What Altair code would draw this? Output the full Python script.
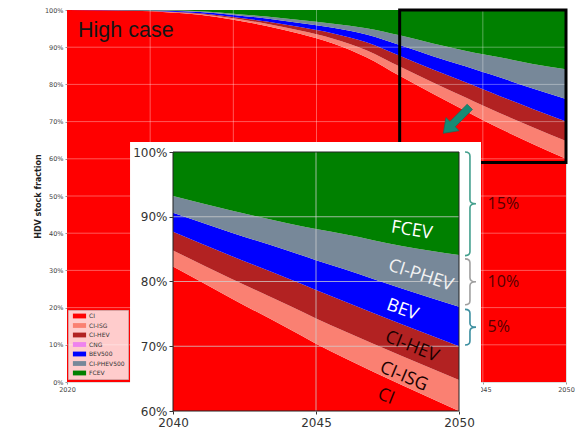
import altair as alt
import pandas as pd

# ---------------- data ----------------
categories = ["CI", "CI-ISG", "CI-HEV", "CNG", "BEV500", "CI-PHEV500", "FCEV"]
colors = ["#ff0000", "#fa8072", "#b22222", "#ee82ee", "#0000ff", "#778899", "#008000"]

years = [2020, 2024, 2026, 2028, 2030, 2032, 2034, 2036, 2038, 2040, 2042, 2044, 2045, 2046, 2048, 2050]
ci   = [100, 99.8, 99.4, 98.7, 97.4, 95.7, 93.6, 91.0, 87.3, 82.3, 77.5, 72.8, 70.4, 68.2, 64.0, 60.0]
isg  = [0, 0.03, 0.1, 0.2, 0.35, 0.6, 0.9, 1.3, 1.9, 2.5, 3.0, 3.6, 3.9, 4.1, 4.5, 4.8]
hev  = [0, 0.03, 0.1, 0.2, 0.35, 0.6, 0.9, 1.4, 2.1, 2.9, 3.5, 4.1, 4.4, 4.6, 4.9, 5.2]
cng  = [0, 0, 0, 0, 0, 0, 0, 0, 0, 0, 0, 0, 0, 0, 0, 0]
bev  = [0, 0.06, 0.2, 0.35, 0.55, 0.8, 1.1, 1.5, 2.1, 2.9, 3.6, 4.3, 4.6, 5.0, 5.5, 6.1]
phev = [0, 0.03, 0.1, 0.2, 0.35, 0.55, 0.8, 1.1, 1.7, 2.6, 3.4, 4.2, 4.8, 5.4, 6.6, 8.0]
fcev = [0, 0.05, 0.1, 0.35, 1.0, 1.75, 2.7, 3.7, 4.9, 6.8, 9.0, 11.0, 11.9, 12.7, 14.5, 15.9]

main_tick_years = [2020, 2025, 2030, 2035, 2040, 2045, 2050]
main_tick_fracs = [0.0, 0.1, 0.2, 0.3, 0.4, 0.5, 0.6, 0.7, 0.8, 0.9, 1.0]
main_grid_years = [2025, 2030, 2035, 2040, 2045]
main_grid_fracs = [0.1, 0.2, 0.3, 0.4, 0.5, 0.6, 0.7, 0.8, 0.9]

inset_years = [2040, 2050]
inset_fracs = [0.6, 1.0]
inset_tick_years = [2040, 2045, 2050]
inset_tick_fracs = [0.6, 0.7, 0.8, 0.9, 1.0]
inset_grid_years = [2045]
inset_grid_fracs = [0.7, 0.8, 0.9]

label_text  = ["FCEV", "CI-PHEV", "BEV", "CI-HEV", "CI-ISG", "CI"]
label_year  = [2048.35, 2048.66, 2048.02, 2048.35, 2048.07, 2047.45]
label_frac  = [0.8785, 0.809, 0.756, 0.699, 0.653, 0.622]
label_angle = [9, 18, 20, 22, 23, 22]
label_color = ["#ffffff", "#f2f2f2", "#ffffff", "#1a0000", "#1a0000", "#2a0000"]

brace_lo    = [0.840, 0.764, 0.702]
brace_hi    = [1.000, 0.835, 0.757]
brace_text  = ["15%", "10%", "5%"]
brace_color = ["#45a08e", "#a0a0a0", "#3d8fa0"]
brace_year = 2050.21
brace_label_year = 2051.0

zoom_box = {"year": [2040], "year2": [2050], "share": [0.59], "share2": [1.0]}
white_box = {"year": [2023.79], "year2": [2044.89], "share": [0.645], "share2": [-0.2]}
arrow_pos = {"year": [2043.42], "share": [0.704]}
case_text = {"year": [2020.66], "share": [0.927], "text": ["High case"]}

# ---------------- table ----------------
series_values = [ci, isg, hev, cng, bev, phev, fcev]
rows = []
for idx, (name, vals) in enumerate(zip(categories, series_values)):
    for yr, v in zip(years, vals):
        rows.append({"year": yr, "series": name, "idx": idx, "share": v / 100.0})
df = pd.DataFrame(rows)
df_in = df[df["year"] >= inset_years[0]]

# ---------------- geometry ----------------
W, H = 499, 372
IN_X = [106, 392]
IN_Y = [401, 142]
PX_PER_FRAC = (IN_Y[0] - IN_Y[1]) / (inset_fracs[1] - inset_fracs[0])

x_main = alt.Scale(domain=[2020, 2050], nice=False, zero=False)
y_main = alt.Scale(domain=[0, 1], nice=False, zero=False)
x_in = alt.Scale(domain=inset_years, range=IN_X, nice=False, zero=False)
y_in = alt.Scale(domain=inset_fracs, range=IN_Y, nice=False, zero=False, clamp=True)

ax_mx = alt.Axis(values=main_tick_years, format="d", grid=False, domain=False, tickSize=2,
                 tickColor="#999999", labelFontSize=6.5, labelFont="DejaVu Sans",
                 labelColor="#444444", labelPadding=2, labelFlush=False, title=None,
                 orient="bottom")
ax_my = alt.Axis(values=main_tick_fracs, format=".0%", grid=False, domain=False, tickSize=2,
                 tickColor="#999999", labelFontSize=6.5, labelFont="DejaVu Sans",
                 labelColor="#444444", labelPadding=2, title="HDV stock fraction",
                 titleFont="DejaVu Sans", titleFontSize=8, titleFontWeight="bold",
                 titleColor="#222222", titleX=-29, titleY=186, titleAngle=270,
                 titleAlign="center", titleBaseline="middle", orient="left")
ax_ix = alt.Axis(values=inset_tick_years, format="d", grid=False, domain=False, tickSize=3,
                 tickColor="#333333", labelFontSize=12, labelFont="DejaVu Sans",
                 labelColor="#333333", labelPadding=3, labelFlush=False, title=None,
                 orient="bottom", offset=IN_Y[0] - H, zindex=1)
ax_iy = alt.Axis(values=inset_tick_fracs, format=".0%", grid=False, domain=False, tickSize=4,
                 tickColor="#333333", labelFontSize=12, labelFont="DejaVu Sans",
                 labelColor="#333333", labelPadding=2, title=None,
                 orient="left", offset=-IN_X[0], zindex=1)

legend = alt.Legend(orient="none", legendX=1, legendY=300, title=None,
                    fillColor="rgba(255,255,255,0.8)", strokeColor="#d9a0a0", padding=3,
                    symbolType="M-2.2,-0.8H2.2V0.8H-2.2Z", symbolSize=36, symbolOffset=5.5,
                    labelOffset=6.5, rowPadding=3.5, labelFontSize=6, labelFont="DejaVu Sans",
                    labelColor="#333333", symbolStrokeWidth=0, symbolOpacity=1)
color_enc = alt.Color("series:N", scale=alt.Scale(domain=categories, range=colors),
                      sort=categories, legend=legend)

def MX(field):
    return alt.X(field, type="quantitative", scale=x_main, axis=ax_mx)

def MY(field, **kw):
    return alt.Y(field, type="quantitative", scale=y_main, axis=ax_my, **kw)

def IX(field):
    return alt.X(field, type="quantitative", scale=x_in, axis=ax_ix)

def IY(field, **kw):
    return alt.Y(field, type="quantitative", scale=y_in, axis=ax_iy, **kw)

ARROW = "M-1,-0.2L0.3,-0.2L0.3,-0.5L1,0L0.3,0.5L0.3,0.2L-1,0.2Z"

def brace_path(h_px, w_px=11.0, r_px=4.0):
    u = h_px / 2.0
    w = w_px / u
    s = 0.45 * w
    r = r_px / u
    return (f"M0,-1Q{s:.4f},-1 {s:.4f},{-1 + r:.4f}L{s:.4f},{-r:.4f}"
            f"Q{s:.4f},0 {w:.4f},0Q{s:.4f},0 {s:.4f},{r:.4f}"
            f"L{s:.4f},{1 - r:.4f}Q{s:.4f},1 0,1")

# ---------------- main chart ----------------
main_area = alt.Chart(df).mark_area(interpolate="monotone", opacity=1).encode(
    x=MX("year"), y=MY("share", stack="zero"), color=color_enc,
    order=alt.Order("idx:Q", sort="ascending"))

grid_v = alt.Chart(pd.DataFrame({"year": main_grid_years})).mark_rule(
    color="white", opacity=0.35, strokeWidth=1).encode(x=MX("year"))
grid_h = alt.Chart(pd.DataFrame({"share": main_grid_fracs})).mark_rule(
    color="white", opacity=0.35, strokeWidth=1).encode(y=MY("share"))

zoom_rect = alt.Chart(pd.DataFrame(zoom_box)).mark_rect(
    fillOpacity=0, stroke="black", strokeWidth=3).encode(
    x=MX("year"), x2="year2:Q", y=MY("share"), y2="share2:Q")

arrow = alt.Chart(pd.DataFrame(arrow_pos)).mark_point(
    shape=ARROW, size=1406, angle=135, filled=True, fill="#168a74", fillOpacity=1,
    stroke="#0f6e5c", strokeWidth=0.6, opacity=1).encode(x=MX("year"), y=MY("share"))

case_label = alt.Chart(pd.DataFrame(case_text)).mark_text(
    font="Liberation Sans", fontSize=21.5, align="left", baseline="alphabetic",
    color="#151515").encode(x=MX("year"), y=MY("share"), text="text:N")

white = alt.Chart(pd.DataFrame(white_box)).mark_rect(fill="white", opacity=1).encode(
    x=MX("year"), x2="year2:Q", y=MY("share"), y2="share2:Q")

main = alt.layer(main_area, grid_v, grid_h, zoom_rect, arrow, case_label, white)

# ---------------- inset ----------------
in_area = alt.Chart(df_in).mark_area(interpolate="monotone", opacity=1).encode(
    x=IX("year"), y=IY("share", stack="zero"), color=color_enc,
    order=alt.Order("idx:Q", sort="ascending"))

one = pd.DataFrame({"k": [0]})
in_grid_v = alt.Chart(pd.DataFrame({"year": inset_grid_years})).mark_rule(
    color="#d0d0d0", opacity=0.75, strokeWidth=1).encode(
    x=IX("year"),
    y=alt.Y(datum=inset_fracs[0], scale=y_in, axis=ax_iy),
    y2=alt.Y2(datum=inset_fracs[1]))
in_grid_h = alt.Chart(pd.DataFrame({"share": inset_grid_fracs})).mark_rule(
    color="#d0d0d0", opacity=0.75, strokeWidth=1).encode(
    y=IY("share"),
    x=alt.X(datum=inset_years[0], scale=x_in, axis=ax_ix),
    x2=alt.X2(datum=inset_years[1]))
in_frame = alt.Chart(one).mark_rect(fillOpacity=0, stroke="#222222", strokeWidth=1).encode(
    x=alt.X(datum=inset_years[0], scale=x_in, axis=ax_ix), x2=alt.X2(datum=inset_years[1]),
    y=alt.Y(datum=inset_fracs[0], scale=y_in, axis=ax_iy), y2=alt.Y2(datum=inset_fracs[1]))

lab_df = pd.DataFrame({"year": label_year, "share": label_frac, "text": label_text,
                       "angle": label_angle, "tcolor": label_color})
in_labels = alt.Chart(lab_df).mark_text(font="Open Sans", fontSize=18, align="center",
                                        baseline="middle").encode(
    x=IX("year"), y=IY("share"), text="text:N",
    angle=alt.Angle("angle:Q", scale=None), fill=alt.Fill("tcolor:N", scale=None))

inset_layers = [in_area, in_grid_v, in_grid_h, in_frame, in_labels]

mids = []
for lo, hi, col in zip(brace_lo, brace_hi, brace_color):
    h_px = (hi - lo) * PX_PER_FRAC
    mid = (lo + hi) / 2.0
    mids.append(mid)
    bdf = pd.DataFrame({"year": [brace_year], "share": [mid]})
    inset_layers.append(
        alt.Chart(bdf).mark_point(shape=brace_path(h_px), size=h_px * h_px, filled=False,
                                  color=col, strokeWidth=1.6, opacity=1).encode(
            x=IX("year"), y=IY("share")))

bl_df = pd.DataFrame({"year": [brace_label_year] * len(brace_text), "share": mids,
                      "text": brace_text})
inset_layers.append(alt.Chart(bl_df).mark_text(
    font="Open Sans", fontSize=16, align="left", baseline="middle",
    color="#550000").encode(x=IX("year"), y=IY("share"), text="text:N"))

inset = alt.layer(*inset_layers)

chart = alt.layer(main, inset).resolve_scale(x="independent", y="independent").properties(
    width=W, height=H,
    autosize=alt.AutoSizeParams(type="none"),
    padding={"left": 59, "top": 2, "right": 9, "bottom": 47},
).configure_view(strokeWidth=0).configure(background="white")

chart.save("out.html", embed_options={"renderer": "svg", "actions": False})
